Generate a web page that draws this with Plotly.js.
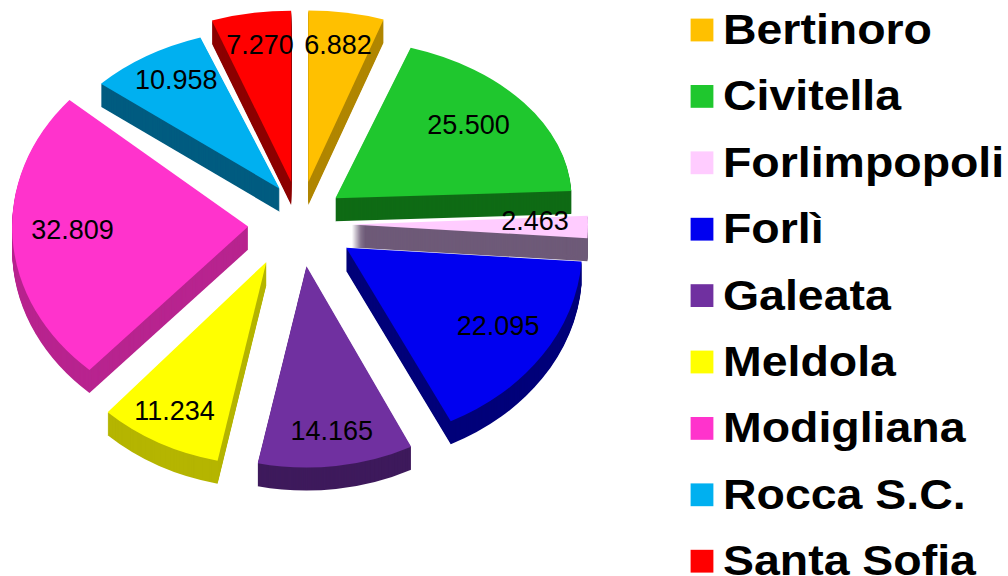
<!DOCTYPE html>
<html><head><meta charset="utf-8">
<script src="https://cdn.plot.ly/plotly-3.0.1.min.js"></script>
<style>html,body{margin:0;padding:0;background:#fff}</style></head>
<body><div id="chart" style="width:1008px;height:576px"></div>
<script>
const categories = ["Bertinoro","Civitella","Forlimpopoli","Forlì","Galeata","Meldola","Modigliana","Rocca S.C.","Santa Sofia"];
const population = [6.882,25.5,2.463,22.095,14.165,11.234,32.809,10.958,7.27];
const topColors = ["#FFC000","#1FC72E","#FFCCFF","#0000F0","#7030A0","#FFFF00","#FF33CC","#00B0F0","#FF0000"];
const sideColors = ["#B08600","#0F6B15","#6E5A78","#00007A","#3E1A5C","#B5B500","#B8248F","#005C80","#8C0000"];
const sliceStretch = [0.885,0.82,1,1,1.04,1.05,1,0.83,0.885];
const sliceShiftX = [0,-6,0,3,0,-10,0,9,0];
const labelReach = [1,0.93,1,1.0,1.08,1.08,0.97,1,1];
const pull = 0.22, depth = 23, squash = 0.82, centerY = 224, labelDist = 235, labelLift = 6;
const W = 1008, H = 576, D = 586;
const dom = {x:[(300-D/2)/W,(300+D/2)/W], y:[0,1]};
function pieTrace(colors, isTop){
  return {type:'pie', labels:categories, values:population, sort:false, direction:'clockwise', rotation:0,
    pull:pull, domain:dom, marker:{colors:colors,line:{width:0}}, showlegend:isTop,
    textinfo:isTop?'text':'none', text:population.map(v=>v.toFixed(3)), textposition:isTop?'inside':'none',
    insidetextorientation:'horizontal', insidetextfont:{family:'Liberation Sans',size:27,color:'#000'},
    hoverinfo:'label+value'};
}
const traces = [];
for(let k=depth;k>0;k-=1) traces.push(pieTrace(sideColors,false));
traces.push(pieTrace(topColors,true));
const layout = {width:W,height:H,margin:{l:0,r:0,t:0,b:0},paper_bgcolor:'#fff',
  legend:{x:0.66,y:1,xanchor:'left',yanchor:'top',font:{family:'Liberation Sans',size:43,color:'#000',weight:'bold'},bgcolor:'rgba(0,0,0,0)'}};
Plotly.newPlot('chart',traces,layout,{displayModeBar:false}).then(()=>{
  const pl=document.querySelector('.pielayer');
  pl.setAttribute('transform',`translate(0,${centerY-288*squash}) scale(1,${squash})`);
  const gs=pl.querySelectorAll('g.trace');
  const total=population.reduce((a,b)=>a+b,0);
  const R=(D/2)/(1+pull);
  const mids=[];let acc=0;
  population.forEach(v=>{mids.push((acc+v/2)/total*2*Math.PI);acc+=v;});
  gs.forEach((g,i)=>{
    const k=(gs.length-1-i)/squash;
    g.setAttribute('transform',`translate(0,${k})`);
    g.querySelectorAll('g.slice').forEach((s,j)=>{
      const tipY=288-pull*R*Math.cos(mids[j]);
      const f=sliceStretch[j];
      s.setAttribute('transform',`translate(${sliceShiftX[j]},${tipY}) scale(1,${f}) translate(0,${-tipY})`);
    });
  });
  gs[gs.length-1].querySelectorAll('g.slice').forEach((s,i)=>{
    const mid=mids[i];
    const t=s.querySelector('text.slicetext');
    if(!t)return;
    const d=labelDist*labelReach[i];
    const x=300+d*Math.sin(mid), y=288-d*Math.cos(mid)-labelLift/(squash*sliceStretch[i]);
    t.setAttribute('transform',`translate(${x},${y}) scale(1,${1/(squash*sliceStretch[i])})`);
    t.setAttribute('text-anchor','middle');
    t.setAttribute('dy','0.35em');
    t.setAttribute('x',0);t.setAttribute('y',0);
  });
  const leg=document.querySelector('g.legend');
  leg.setAttribute('transform','translate(662,0)');
  leg.querySelectorAll('[clip-path]').forEach(e=>e.removeAttribute('clip-path'));
  leg.querySelectorAll('g.traces').forEach((g,i)=>{
    g.setAttribute('transform',`translate(0,${30+i*66.4})`);
    const sym=g.querySelector('.legendpie');
    if(sym) sym.setAttribute('transform','translate(40,0) scale(1.9)');
    const txt=g.querySelector('text');
    if(txt){txt.setAttribute('x',0);txt.setAttribute('y',0);txt.setAttribute('transform','translate(61,14) scale(1.08,1)');}
  });
});
</script></body></html>
